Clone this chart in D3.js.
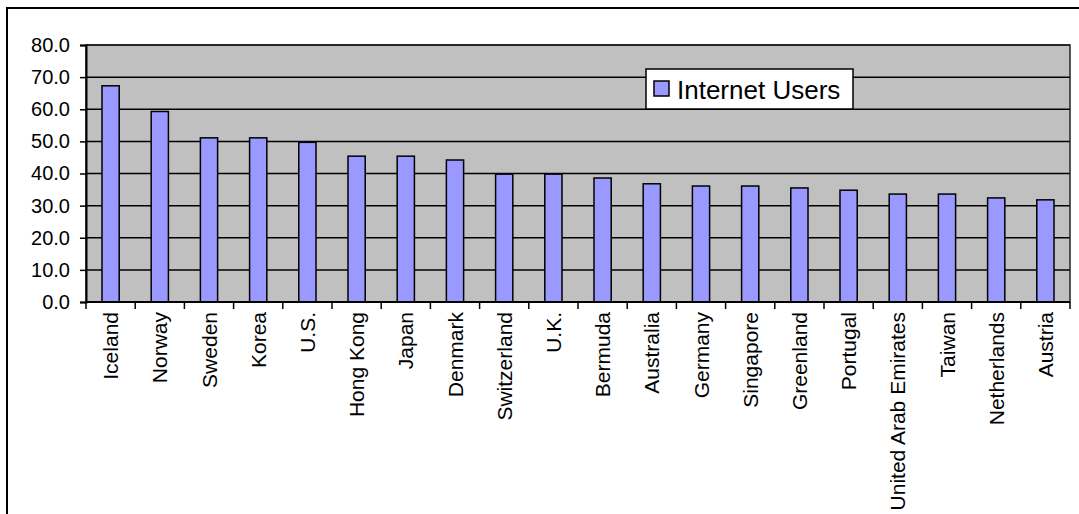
<!DOCTYPE html>
<html>
<head>
<meta charset="utf-8">
<script src="https://cdn.jsdelivr.net/npm/d3@7"></script>
<style>
  html, body { margin: 0; padding: 0; background: #fff; }
  svg { display: block; font-family: "Liberation Sans", Arial, sans-serif; }
</style>
</head>
<body>
<svg id="chart" width="1079" height="514"></svg>
<script>
// Internet users per 100 inhabitants, top 20 economies
const countries = ["Iceland", "Norway", "Sweden", "Korea", "U.S.", "Hong Kong", "Japan", "Denmark",
  "Switzerland", "U.K.", "Bermuda", "Australia", "Germany", "Singapore", "Greenland", "Portugal",
  "United Arab Emirates", "Taiwan", "Netherlands", "Austria"];
const internetUsers = [67.3, 59.3, 51.1, 51.1, 49.7, 45.4, 45.4, 44.2, 39.8, 39.8,
  38.6, 36.8, 36.1, 36.1, 35.5, 34.8, 33.6, 33.6, 32.4, 31.8];
const yTicks = [0, 10, 20, 30, 40, 50, 60, 70, 80];
const seriesName = "Internet Users";

const svg = d3.select("#chart");
const plot = { left: 86, top: 45, right: 1070, bottom: 302 };

// Outer chart frame (continues past the visible area)
svg.append("rect")
  .attr("x", 7).attr("y", 8)
  .attr("width", 1100).attr("height", 600)
  .attr("fill", "#fff").attr("stroke", "#000").attr("stroke-width", 2);

const x = d3.scaleBand().domain(countries).range([plot.left, plot.right]).paddingInner(0).paddingOuter(0);
const y = d3.scaleLinear().domain([0, 80]).range([plot.bottom, plot.top]);

// Plot area background
svg.append("rect")
  .attr("x", plot.left).attr("y", plot.top)
  .attr("width", plot.right - plot.left).attr("height", plot.bottom - plot.top)
  .attr("fill", "#c0c0c0");

// Horizontal gridlines
svg.append("g").selectAll("line").data(yTicks.filter(d => d > 0)).join("line")
  .attr("x1", plot.left).attr("x2", plot.right)
  .attr("y1", d => y(d)).attr("y2", d => y(d))
  .attr("stroke", "#000").attr("stroke-width", 1.5);

// Bars
const barW = x.bandwidth() * 0.35;
svg.append("g").selectAll("rect").data(internetUsers).join("rect")
  .attr("x", (d, i) => x(countries[i]) + x.bandwidth() / 2 - barW / 2)
  .attr("y", d => y(d))
  .attr("width", barW)
  .attr("height", d => y(0) - y(d))
  .attr("fill", "#9999ff")
  .attr("stroke", "#000").attr("stroke-width", 1.5);

// Plot area border
svg.append("rect")
  .attr("x", plot.left).attr("y", plot.top)
  .attr("width", plot.right - plot.left).attr("height", plot.bottom - plot.top)
  .attr("fill", "none").attr("stroke", "#222").attr("stroke-width", 1.5);

// Y axis
const yAxis = d3.axisLeft(y).tickValues(yTicks).tickFormat(d3.format(".1f")).tickSize(6).tickPadding(10);
const gy = svg.append("g").attr("transform", `translate(${plot.left},0)`).call(yAxis);
gy.select(".domain").attr("stroke", "#000").attr("stroke-width", 2);
gy.selectAll(".tick line").attr("stroke", "#000").attr("stroke-width", 1.5);
gy.selectAll(".tick text").attr("font-size", 20).attr("fill", "#000")
  .attr("font-family", "Liberation Sans, Arial, sans-serif");

// X axis: tick marks at category boundaries
const gx = svg.append("g");
gx.append("line")
  .attr("x1", plot.left).attr("x2", plot.right)
  .attr("y1", plot.bottom).attr("y2", plot.bottom)
  .attr("stroke", "#000").attr("stroke-width", 2);
const boundaries = countries.map(c => x(c)).concat([plot.right]);
gx.selectAll("line.tk").data(boundaries).join("line").attr("class", "tk")
  .attr("x1", d => d).attr("x2", d => d)
  .attr("y1", plot.bottom).attr("y2", plot.bottom + 7)
  .attr("stroke", "#000").attr("stroke-width", 1.5);

// Rotated category labels
gx.selectAll("text").data(countries).join("text")
  .attr("transform", d => `translate(${x(d) + x.bandwidth() / 2},312) rotate(-90)`)
  .attr("text-anchor", "end")
  .attr("dy", "0.36em")
  .attr("font-size", 21)
  .attr("fill", "#000")
  .text(d => d);

// Legend
const legend = svg.append("g").attr("transform", "translate(646,69)");
legend.append("rect")
  .attr("width", 207).attr("height", 40)
  .attr("fill", "#fff").attr("stroke", "#000").attr("stroke-width", 1.5);
legend.append("rect")
  .attr("x", 8).attr("y", 12).attr("width", 15).attr("height", 15)
  .attr("fill", "#9999ff").attr("stroke", "#000").attr("stroke-width", 1.5);
legend.append("text")
  .attr("x", 31).attr("y", 30)
  .attr("font-size", 26).attr("fill", "#000")
  .text(seriesName);
</script>
</body>
</html>
